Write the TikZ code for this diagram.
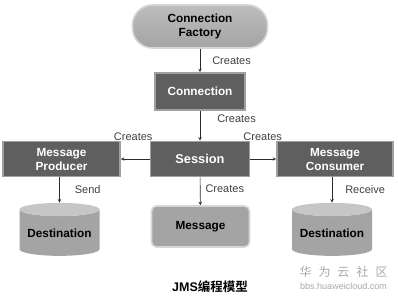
\documentclass[tikz,border=0pt]{standalone}
\usepackage{fontspec}
\setmainfont{Liberation Sans}
\newfontfamily\cjk{Noto Sans CJK SC}[BoldFont={Noto Sans CJK SC Bold}]
\usetikzlibrary{positioning,shapes.geometric,arrows}
\definecolor{ink}       {HTML}{2B2B2B}
\definecolor{slate}     {HTML}{5F5F5F}
\definecolor{slateedge} {HTML}{A0A0A0}
\definecolor{pebble}    {HTML}{A4A4A4}
\definecolor{pebbletop} {HTML}{BDBDBD}
\definecolor{pebbleedge}{HTML}{D6D6D6}
\definecolor{drumtop}   {HTML}{C6C6C6}
\definecolor{watermark} {HTML}{A8A8A8}
\tikzset{
  >=stealth,
  every node/.style={font=\fontsize{11}{12}\selectfont},
  % --- nodes
  obj/.style   = {draw=slateedge, fill=slate, line width=1.6pt, text=white, align=center,
                  inner sep=1pt, font=\fontsize{11.8}{14}\selectfont\bfseries},
  pill/.style  = {draw=pebbleedge, line width=1.6pt, top color=pebbletop, bottom color=pebble,
                  rounded corners=20pt, align=center, text=black, inner sep=1pt,
                  font=\fontsize{11.8}{14}\selectfont\bfseries},
  msg/.style   = {pill, rounded corners=5pt, top color=pebble, bottom color=pebble},
  drum/.style  = {cylinder, shape border rotate=90, aspect=0.2, draw=none,
                  cylinder uses custom fill, cylinder body fill=pebble, cylinder end fill=drumtop,
                  minimum width=80pt, minimum height=53pt, inner sep=1pt,
                  font=\fontsize{11.8}{14}\selectfont\bfseries},
  lbl/.style   = {font=\fontsize{11}{12}\selectfont, text=ink!90, inner sep=1pt},
  % --- edges
  e/.style     = {-stealth, draw=ink, line width=0.6pt},
}
\begin{document}
\begin{tikzpicture}[x=1pt, y=-1pt]
  \useasboundingbox (0,0) rectangle (398,298);

  \node[pill, minimum width=135pt, minimum height=43pt] (cf) at (200,26.5) {Connection\\Factory};
  \node[obj, minimum width=90pt, minimum height=37pt] (conn) at (200,91.5) {Connection};
  \node[obj, minimum width=99pt, minimum height=35pt, font=\fontsize{12.8}{14}\selectfont\bfseries]
    (sess) at (200,159) {Session};
  \node[obj, minimum width=117pt, minimum height=35pt] (prod) at (61.5,159) {Message\\Producer};
  \node[obj, minimum width=116pt, minimum height=35pt] (cons) at (335,159) {Message\\Consumer};
  \node[drum] (dl) at (59.5,233.5) {Destination};
  \node[msg, minimum width=98pt, minimum height=41pt] (mesg) at (200.5,226.5) {Message};
  \node[drum] (dr) at (332,233.5) {Destination};

  \draw[e] (cf) -- node[lbl, right, xshift=11pt] {Creates} (conn);
  \draw[e] (conn) -- node[lbl, pos=0.28, right, xshift=16pt] {Creates} (sess);
  \draw[e] (sess) -- node[lbl, pos=0.57, above, yshift=17pt] {Creates} (prod);
  \draw[e] (sess) -- node[lbl, pos=0.48, above, yshift=17pt] {Creates} (cons);
  \draw[e] (sess) -- node[lbl, pos=0.4, right, xshift=4pt] {Creates} (mesg);
  \draw[e] (prod.south -| dl.north) -- node[lbl, right, xshift=14pt] {Send} (dl.north);
  \draw[e] (cons.south -| dr.north) -- node[lbl, right, xshift=12pt] {Receive} (dr.north);

  \node[font=\fontsize{12.5}{13}\selectfont\bfseries] (title) at (210,287) {JMS{\cjk 编程模型}};
  \node[text=watermark, font=\cjk\fontsize{12}{13}\selectfont] (wmark) at (343.5,272)
    {华\hspace{7pt}为\hspace{7pt}云\hspace{7pt}社\hspace{7pt}区};
  \node[text=watermark, font=\fontsize{9}{10}\selectfont, below=-2pt of wmark] (wurl) {bbs.huaweicloud.com};
\end{tikzpicture}
\end{document}
